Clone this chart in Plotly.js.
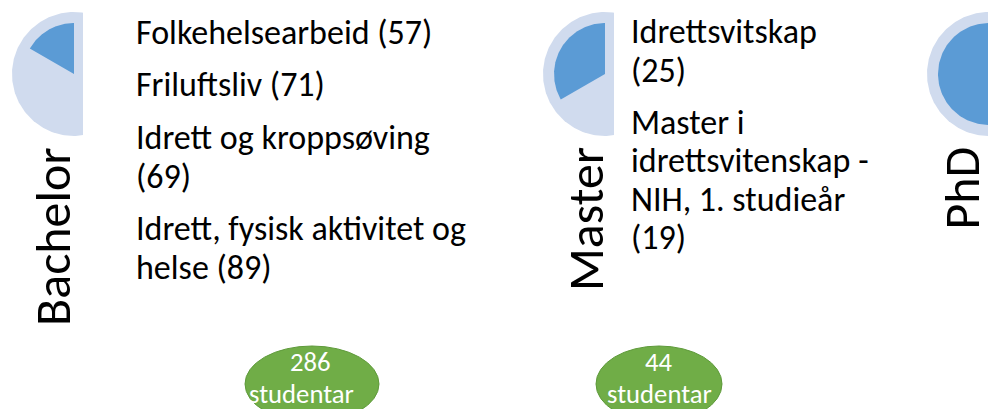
<!DOCTYPE html>
<html><head><meta charset="utf-8">
<script src="https://cdn.plot.ly/plotly-3.0.1.min.js"></script>
<style>html,body{margin:0;padding:0;background:#fff;overflow:hidden}</style>
</head><body>
<div id="chart" style="width:988px;height:409px"></div>
<script>
// ---- data ----
const levels = ["Bachelor", "Master", "PhD"];
const levelShare = [0.167, 0.333, 1.0];
const bachelorProgrammes = ["Folkehelsearbeid", "Friluftsliv", "Idrett og kroppsøving", "Idrett, fysisk aktivitet og\nhelse"];
const bachelorStudents = [57, 71, 69, 89];
const bachelorCountOnNewLine = [false, false, true, false];
const masterProgrammes = ["Idrettsvitskap", "Master i\nidrettsvitenskap -\nNIH, 1. studieår"];
const masterStudents = [25, 19];
const masterCountOnNewLine = [true, true];
const studentUnit = "studentar";

// ---- layout helpers ----
const FONT = "Carlito, Calibri, Lato, sans-serif";
const W = 988, H = 409;
const centres = [[74, 74], [605, 74], [989, 74]];
const R_OUT = 62, R_IN = 51, CLIP = 9;
const LIGHT = "#D0DBEE", DARK = "#5B9BD5";

const traces = [];
function circlePts(cx, cy, r, a0, a1, n, withCentre) {
  const xs = [], ys = [];
  if (withCentre) { xs.push(cx); ys.push(cy); }
  for (let k = 0; k <= n; k++) {
    const t = a0 + (a1 - a0) * k / n;
    xs.push(Math.min(cx + r * Math.cos(t), cx + CLIP));
    ys.push(cy - r * Math.sin(t));
  }
  xs.push(xs[0]); ys.push(ys[0]);
  return {xs, ys};
}
levels.forEach((lv, i) => {
  const [cx, cy] = centres[i];
  const bg = circlePts(cx, cy, R_OUT, 0, 2 * Math.PI, 240, false);
  traces.push({type: 'scatter', x: bg.xs, y: bg.ys, mode: 'lines', fill: 'toself',
    fillcolor: LIGHT, line: {width: 0, color: LIGHT}, hoverinfo: 'skip', showlegend: false});
  const share = levelShare[i];
  const full = share >= 0.999;
  const a0 = Math.PI / 2, a1 = Math.PI / 2 + share * 2 * Math.PI;
  const w = circlePts(cx, cy, R_IN, a0, a1, 200, !full);
  traces.push({type: 'scatter', x: w.xs, y: w.ys, mode: 'lines', fill: 'toself',
    fillcolor: DARK, line: {width: 0, color: DARK}, hoverinfo: 'skip', showlegend: false});
});

const annotations = [];
// rotated level labels
const levelX = [52.5, 585, 961];
levels.forEach((lv, i) => {
  annotations.push({text: lv, x: levelX[i], y: 146, xref: 'x', yref: 'y', xanchor: 'center', yanchor: 'top',
    textangle: -90, showarrow: false, borderpad: 0, font: {family: FONT, size: 50, color: '#000'}});
});

function listLines(names, counts, newLine) {
  return names.map((n, i) => (n + (newLine[i] ? "\n" : " ") + "(" + counts[i] + ")").split("\n"));
}
function addList(items, x, firstMid, lineH, itemGap) {
  let mid = firstMid;
  items.forEach((lines) => {
    lines.forEach((ln, j) => {
      annotations.push({text: ln, x: x, y: mid, xref: 'x', yref: 'y', xanchor: 'left', yanchor: 'middle',
        showarrow: false, borderpad: 0, font: {family: FONT, size: 34, color: '#000'}});
      if (j < lines.length - 1) mid += lineH;
    });
    mid += itemGap;
  });
}
addList(listLines(bachelorProgrammes, bachelorStudents, bachelorCountOnNewLine), 135, 32.5, 39, 52.3);
addList(listLines(masterProgrammes, masterStudents, masterCountOnNewLine), 630, 31.5, 38.5, 52);

// totals in green ellipses
const totals = [bachelorStudents.reduce((a, b) => a + b, 0), masterStudents.reduce((a, b) => a + b, 0)];
const ellipses = [[245, 379], [596, 722]];
const numberX = [310, 659];
const unitX = [301, 659];
const shapes = [];
totals.forEach((t, i) => {
  const [x0, x1] = ellipses[i];
  shapes.push({type: 'circle', xref: 'x', yref: 'y', x0: x0, x1: x1, y0: 346, y1: 422,
    fillcolor: '#70AD47', line: {color: '#5E9A3A', width: 1}, layer: 'below'});
  annotations.push({text: String(t), x: numberX[i], y: 362, xref: 'x', yref: 'y', xanchor: 'center', yanchor: 'middle',
    showarrow: false, borderpad: 0, font: {family: FONT, size: 26.7, color: '#fff'}});
  annotations.push({text: studentUnit, x: unitX[i], y: 394, xref: 'x', yref: 'y', xanchor: 'center', yanchor: 'middle',
    showarrow: false, borderpad: 0, font: {family: FONT, size: 26.7, color: '#fff'}});
});

const layout = {
  width: W, height: H, margin: {l: 0, r: 0, t: 0, b: 0, pad: 0},
  paper_bgcolor: '#fff', plot_bgcolor: '#fff', showlegend: false,
  xaxis: {range: [0, W], visible: false, fixedrange: true},
  yaxis: {range: [H, 0], visible: false, fixedrange: true},
  annotations: annotations, shapes: shapes
};
Plotly.newPlot('chart', traces, layout, {staticPlot: true, displayModeBar: false});
</script>
</body></html>
